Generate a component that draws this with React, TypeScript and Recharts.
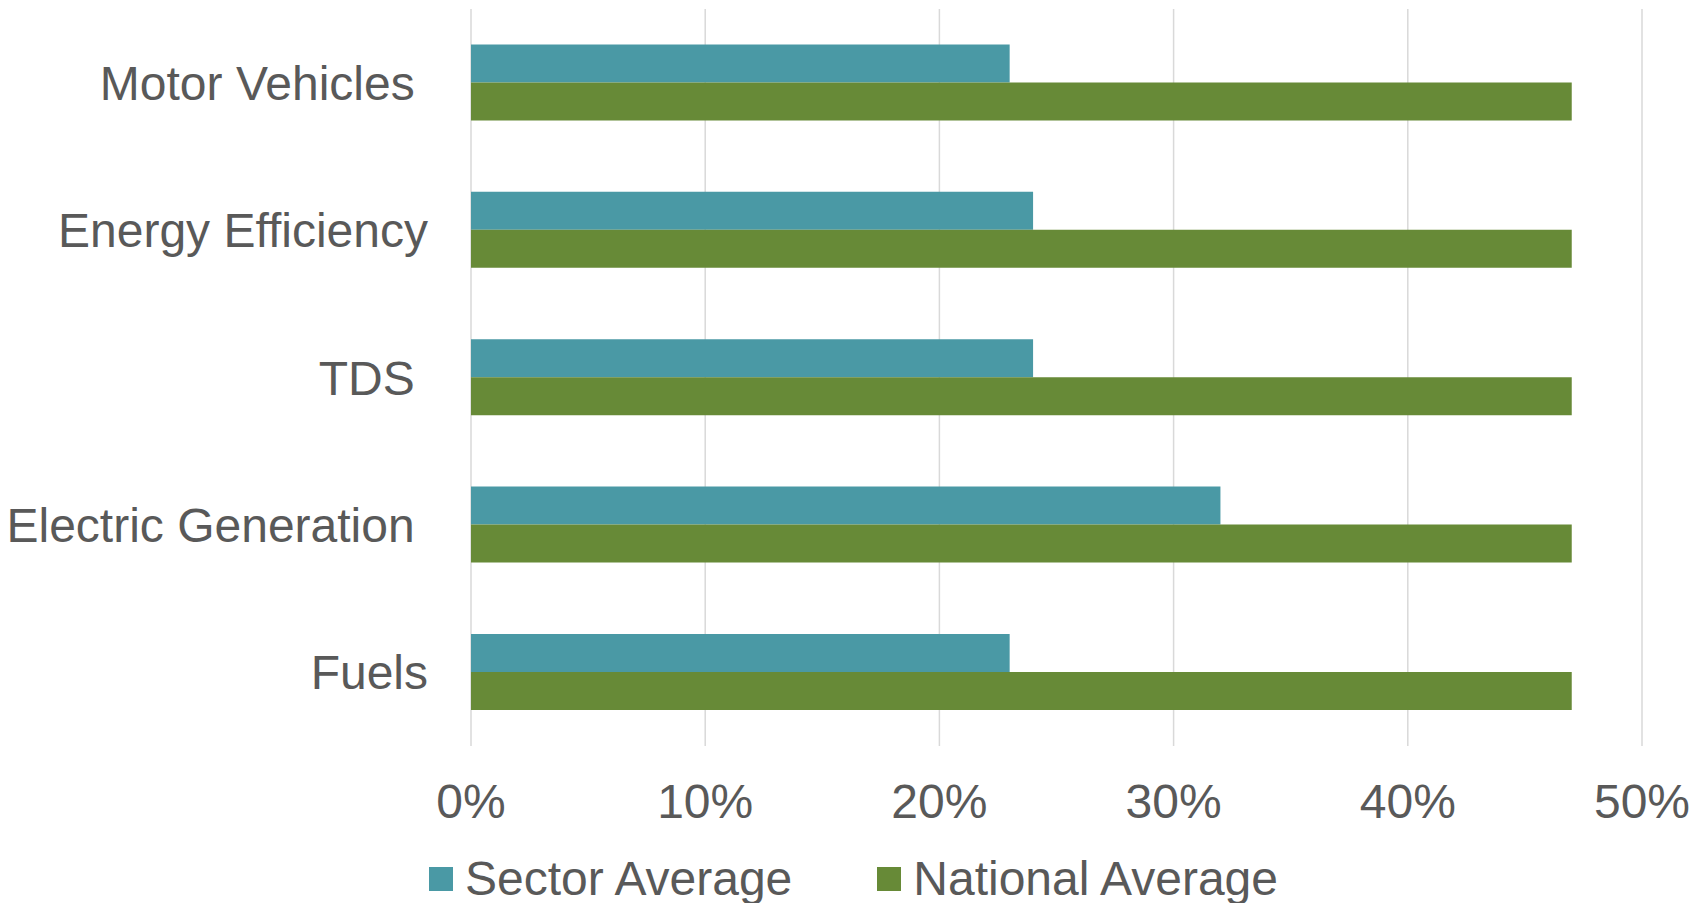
import React from 'react';
import { BarChart, Bar, XAxis, YAxis, CartesianGrid, Legend } from 'recharts';

const categories = ['Motor Vehicles\u00a0', 'Energy Efficiency', 'TDS\u00a0', 'Electric Generation\u00a0', 'Fuels'];
const sectorAverage = [23, 24, 24, 32, 23];
const nationalAverage = [47, 47, 47, 47, 47];
const xTicks = [0, 10, 20, 30, 40, 50];

const SECTOR_COLOR = '#4a99a5';
const NATIONAL_COLOR = '#678a37';
const TEXT_COLOR = '#595959';
const FONT = '"Liberation Sans", Arial, sans-serif';

const data = categories.map((name, i) => ({
  name,
  sector: sectorAverage[i],
  national: nationalAverage[i],
}));

const legendItems = [
  { label: 'Sector Average', color: SECTOR_COLOR },
  { label: 'National Average', color: NATIONAL_COLOR },
];

const LegendContent = () => (
  <div style={{ display: 'flex', justifyContent: 'center', gap: 85, fontFamily: FONT, fontSize: 48, color: TEXT_COLOR }}>
    {legendItems.map((item) => (
      <div key={item.label} style={{ display: 'flex', alignItems: 'center', gap: 12 }}>
        <div style={{ width: 24, height: 24, backgroundColor: item.color }} />
        <span style={{ lineHeight: '54px' }}>{item.label}</span>
      </div>
    ))}
  </div>
);

export default function App() {
  return (
    <div style={{ position: 'absolute', left: 0, top: 0, background: '#fff' }}>
      <BarChart
        width={1707}
        height={903}
        data={data}
        layout="vertical"
        margin={{ top: 9, right: 65, bottom: 73, left: 0 }}
        barCategoryGap="24%"
        barGap={0}
      >
        <CartesianGrid horizontal={false} stroke="#d9d9d9" strokeWidth={1.5} />
        <XAxis
          type="number"
          domain={[0, 50]}
          ticks={xTicks}
          tickFormatter={(v) => `${v}%`}
          axisLine={false}
          tickLine={false}
          tickMargin={32}
          tick={{ fontFamily: FONT, fontSize: 48, fill: TEXT_COLOR }}
        />
        <YAxis
          type="category"
          dataKey="name"
          width={471}
          axisLine={false}
          tickLine={false}
          tickMargin={37}
          tick={{ fontFamily: FONT, fontSize: 48, fill: TEXT_COLOR }}
        />
        <Legend
          verticalAlign="bottom"
          wrapperStyle={{ bottom: -3, left: 0, width: 1707 }}
          content={<LegendContent />}
        />
        <Bar dataKey="sector" name="Sector Average" fill={SECTOR_COLOR} isAnimationActive={false} />
        <Bar dataKey="national" name="National Average" fill={NATIONAL_COLOR} isAnimationActive={false} />
      </BarChart>
    </div>
  );
}
